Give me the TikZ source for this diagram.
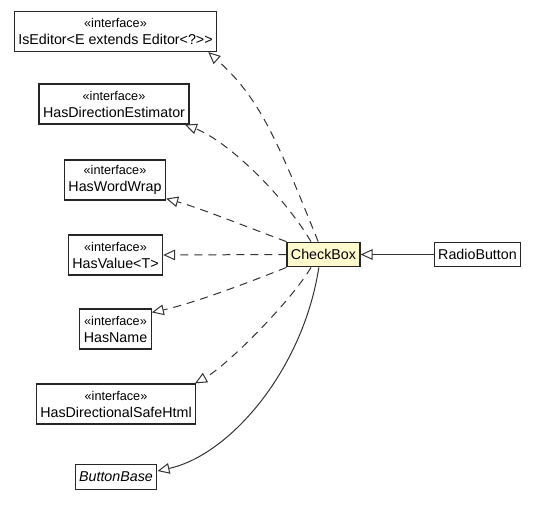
\documentclass[tikz,border=0pt]{standalone}
\usepackage{fontspec}
\setmainfont{Liberation Sans}[Ligatures=TeXOff]
\usepackage{xcolor}
\usepackage{tikz}
\usetikzlibrary{arrows.meta,positioning,calc}
\definecolor{selbox}{RGB}{255,250,205}
\newcommand{\ifacetag}{{\fontsize{9.5}{12.75}\selectfont «interface»}}

\begin{document}
\begin{tikzpicture}[x=0.75pt,y=-0.75pt,
 cls/.style={draw=black!85,line width=0.9pt,inner xsep=3pt,minimum height=18.5pt,font=\fontsize{10.7}{12.75}\selectfont},
 iface/.style={cls,align=center,minimum height=30pt},
 sel/.style={cls,fill=selbox},
 inh/.style={-{Triangle[open,length=9pt,width=8pt]},line width=0.75pt,draw=black!80},
 impl/.style={inh,dash pattern=on 6pt off 4.5pt}]
 \useasboundingbox (0,0) rectangle (539,507);
 % interfaces, left column
 \node[iface] (iseditor) at (115.5,31.5) {\ifacetag\\IsEditor<E extends Editor<?>>};
 \node[iface] (hasdirest) at (114,104) {\ifacetag\\HasDirectionEstimator};
 \node[iface] (haswordwrap) at (115,180) {\ifacetag\\HasWordWrap};
 \node[iface] (hasvalue) at (115.5,255) {\ifacetag\\HasValue<T>};
 \node[iface] (hasname) at (115.5,329) {\ifacetag\\HasName};
 \node[iface] (hassafehtml) at (116,404) {\ifacetag\\HasDirectionalSafeHtml};
 \node[cls] (buttonbase) at (116,477) {\textit{ButtonBase}};
 % the class and its subclass
 \node[sel] (checkbox) at (323.5,254.5) {CheckBox};
 \node[cls] (radiobutton) at (477.5,254.5) {RadioButton};
 % realizations
 \draw[impl] ([xshift=-4pt]checkbox.north) .. controls (278,142) and (260,98) .. ([xshift=-6.75pt]iseditor.south east);
 \draw[impl] ([xshift=-9.4pt]checkbox.north) .. controls (280,190) and (225,140) .. ([xshift=-3.5pt]hasdirest.south east);
 \draw[impl] (checkbox.north west) .. controls (260,232) and (200,208) .. ([yshift=1.5pt]haswordwrap.south east);
 \draw[impl] (checkbox.west) -- (hasvalue.east);
 \draw[impl] (checkbox.south west) .. controls (255,280) and (195,303) .. ([yshift=-3pt]hasname.north east);
 \draw[impl] ([xshift=-9.4pt]checkbox.south) .. controls (292,300) and (228,365) .. ([xshift=-1pt]hassafehtml.north east);
 % generalizations
 \draw[inh] ([xshift=-3.5pt]checkbox.south) .. controls (303,370) and (230,455) .. ([yshift=4.5pt]buttonbase.east);
 \draw[inh] (radiobutton) -- (checkbox);
\end{tikzpicture}
\end{document}
